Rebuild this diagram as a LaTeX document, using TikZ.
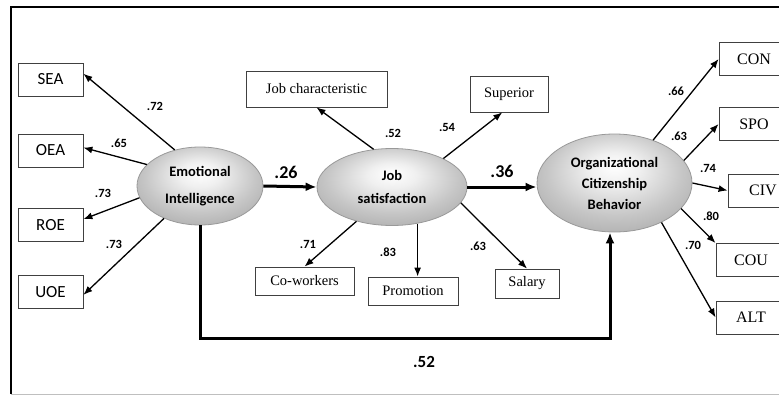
\documentclass[tikz,border=0pt]{standalone}
\usepackage{fontspec}
\setmainfont{Liberation Serif}
\newfontfamily\cali{Carlito}
\usetikzlibrary{positioning,shapes.geometric,arrows.meta,calc}

\pgfdeclareradialshading{glow}{\pgfpoint{0bp}{9bp}}{color(0bp)=(white); color(8bp)=(gray!12); color(22bp)=(gray!45); color(34bp)=(gray!68); color(50bp)=(gray!68)}

\begin{document}
\begin{tikzpicture}[x=1pt,y=-1pt,
	box/.style={draw=black!75,line width=0.8pt,minimum height=33pt,inner sep=0pt},
	oval/.style={ellipse,draw=gray!80,line width=0.8pt,inner sep=0pt,shading=glow,align=center,font=\cali\bfseries\fontsize{14.5}{21}\selectfont},
	load/.style={line width=1.3pt,-{Latex[length=9pt,width=7pt]}},
	thickpath/.style={line width=3pt,-{Latex[length=11pt,width=9pt]}},
	lbl/.style={font=\cali\bfseries\fontsize{12.5}{14}\selectfont},
	big/.style={font=\cali\bfseries\fontsize{18}{20}\selectfont}]

\useasboundingbox (0,0) rectangle (779,396);

%frame
\draw[line width=1.6pt] (790,7) -- (11,7) -- (11,394);
\draw[gray!50,line width=1pt] (11,394) -- (790,394);

%\draw[color=black!30](0,0)grid(779,396);

\node[oval,minimum width=126pt,minimum height=78pt] (ei) at (200,186) {Emotional\\[6pt]Intelligence};
\node[oval,minimum width=150pt,minimum height=77pt] (js) at (392,187) {Job\\[2pt]satisfaction};
\node[oval,minimum width=155pt,minimum height=98pt] (ocb) at (614.5,183) {Organizational\\Citizenship\\Behavior};

\foreach \n/\y in {SEA/79.5,OEA/150.5,ROE/225,UOE/292}
	\node[box,minimum width=65pt,font=\cali\fontsize{17}{20}\selectfont] (\n) at (50.5,\y) {\n};

\foreach \n/\x/\y in {CON/754/59,SPO/754/124,CIV/763/190.5,COU/751/260,ALT/751/317.5}
	\node[box,minimum width=70pt,font=\fontsize{16}{19}\selectfont] (\n) at (\x,\y) {\n};

\node[box,minimum width=141pt,minimum height=36pt,font=\fontsize{14.5}{17}\selectfont] (jc) at (316.5,89) {Job characteristic};
\node[box,minimum width=78pt,minimum height=36pt,font=\fontsize{14.5}{17}\selectfont] (sup) at (509,94) {Superior};
\node[box,minimum width=99pt,minimum height=28pt,font=\fontsize{14.5}{17}\selectfont] (cow) at (304.5,281) {Co-workers};
\node[box,minimum width=90pt,minimum height=28pt,font=\fontsize{14.5}{17}\selectfont] (prom) at (413,291) {Promotion};
\node[box,minimum width=64pt,minimum height=29pt,font=\fontsize{14.5}{17}\selectfont] (sal) at (527,283.5) {Salary};

\draw[load] (ei.125) -- (SEA.10);
\draw[load] (ei.158) -- (OEA.5);
\draw[load] (ei.191) -- (ROE.10);
\draw[load] (ei.222) -- (UOE.-5);

\draw[load] (js.116) -- (jc.south);
\draw[load] (js.29) -- (sup.250);
\draw[load] (js.224) -- (cow.north);
\draw[load] (js.305) -- (js.305 |- prom.north);
\draw[load] (js.347) -- (sal.north);

\draw[load] (ocb.48) -- (CON.west);
\draw[load] (ocb.18) -- (SPO.west);
\draw[load] (ocb.east) -- (CIV.west);
\draw[load] (ocb.-21) -- (COU.north west);
\draw[load] (ocb.-40) -- (ALT.west);

\draw[thickpath] (ei.east) -- (js.west);
\draw[thickpath] (js.east) -- (js.east -| ocb.west);
\coordinate (turn) at (610,338);
\draw[thickpath] (ei.south) |- (turn) -- (turn |- ocb.south);

\foreach[count=\c] \x/\y/\t in {155/106/.72,119/143/.65,103/193/.73,114/244/.73,
393/133/.52,447/127/.54,308/244/.71,388/252/.83,478/246/.63,
676/91/.66,679/136/.63,708/168/.74,711/216/.80,693/245/.70}
	\node[lbl] (w\c) at (\x,\y) {\t};

\node[big] (p1) at (286,172) {.26};
\node[big] (p2) at (502,171) {.36};
\node[big,font=\cali\bfseries\fontsize{17}{20}\selectfont] (p3) at (424,362) {.52};

\end{tikzpicture}
\end{document}
